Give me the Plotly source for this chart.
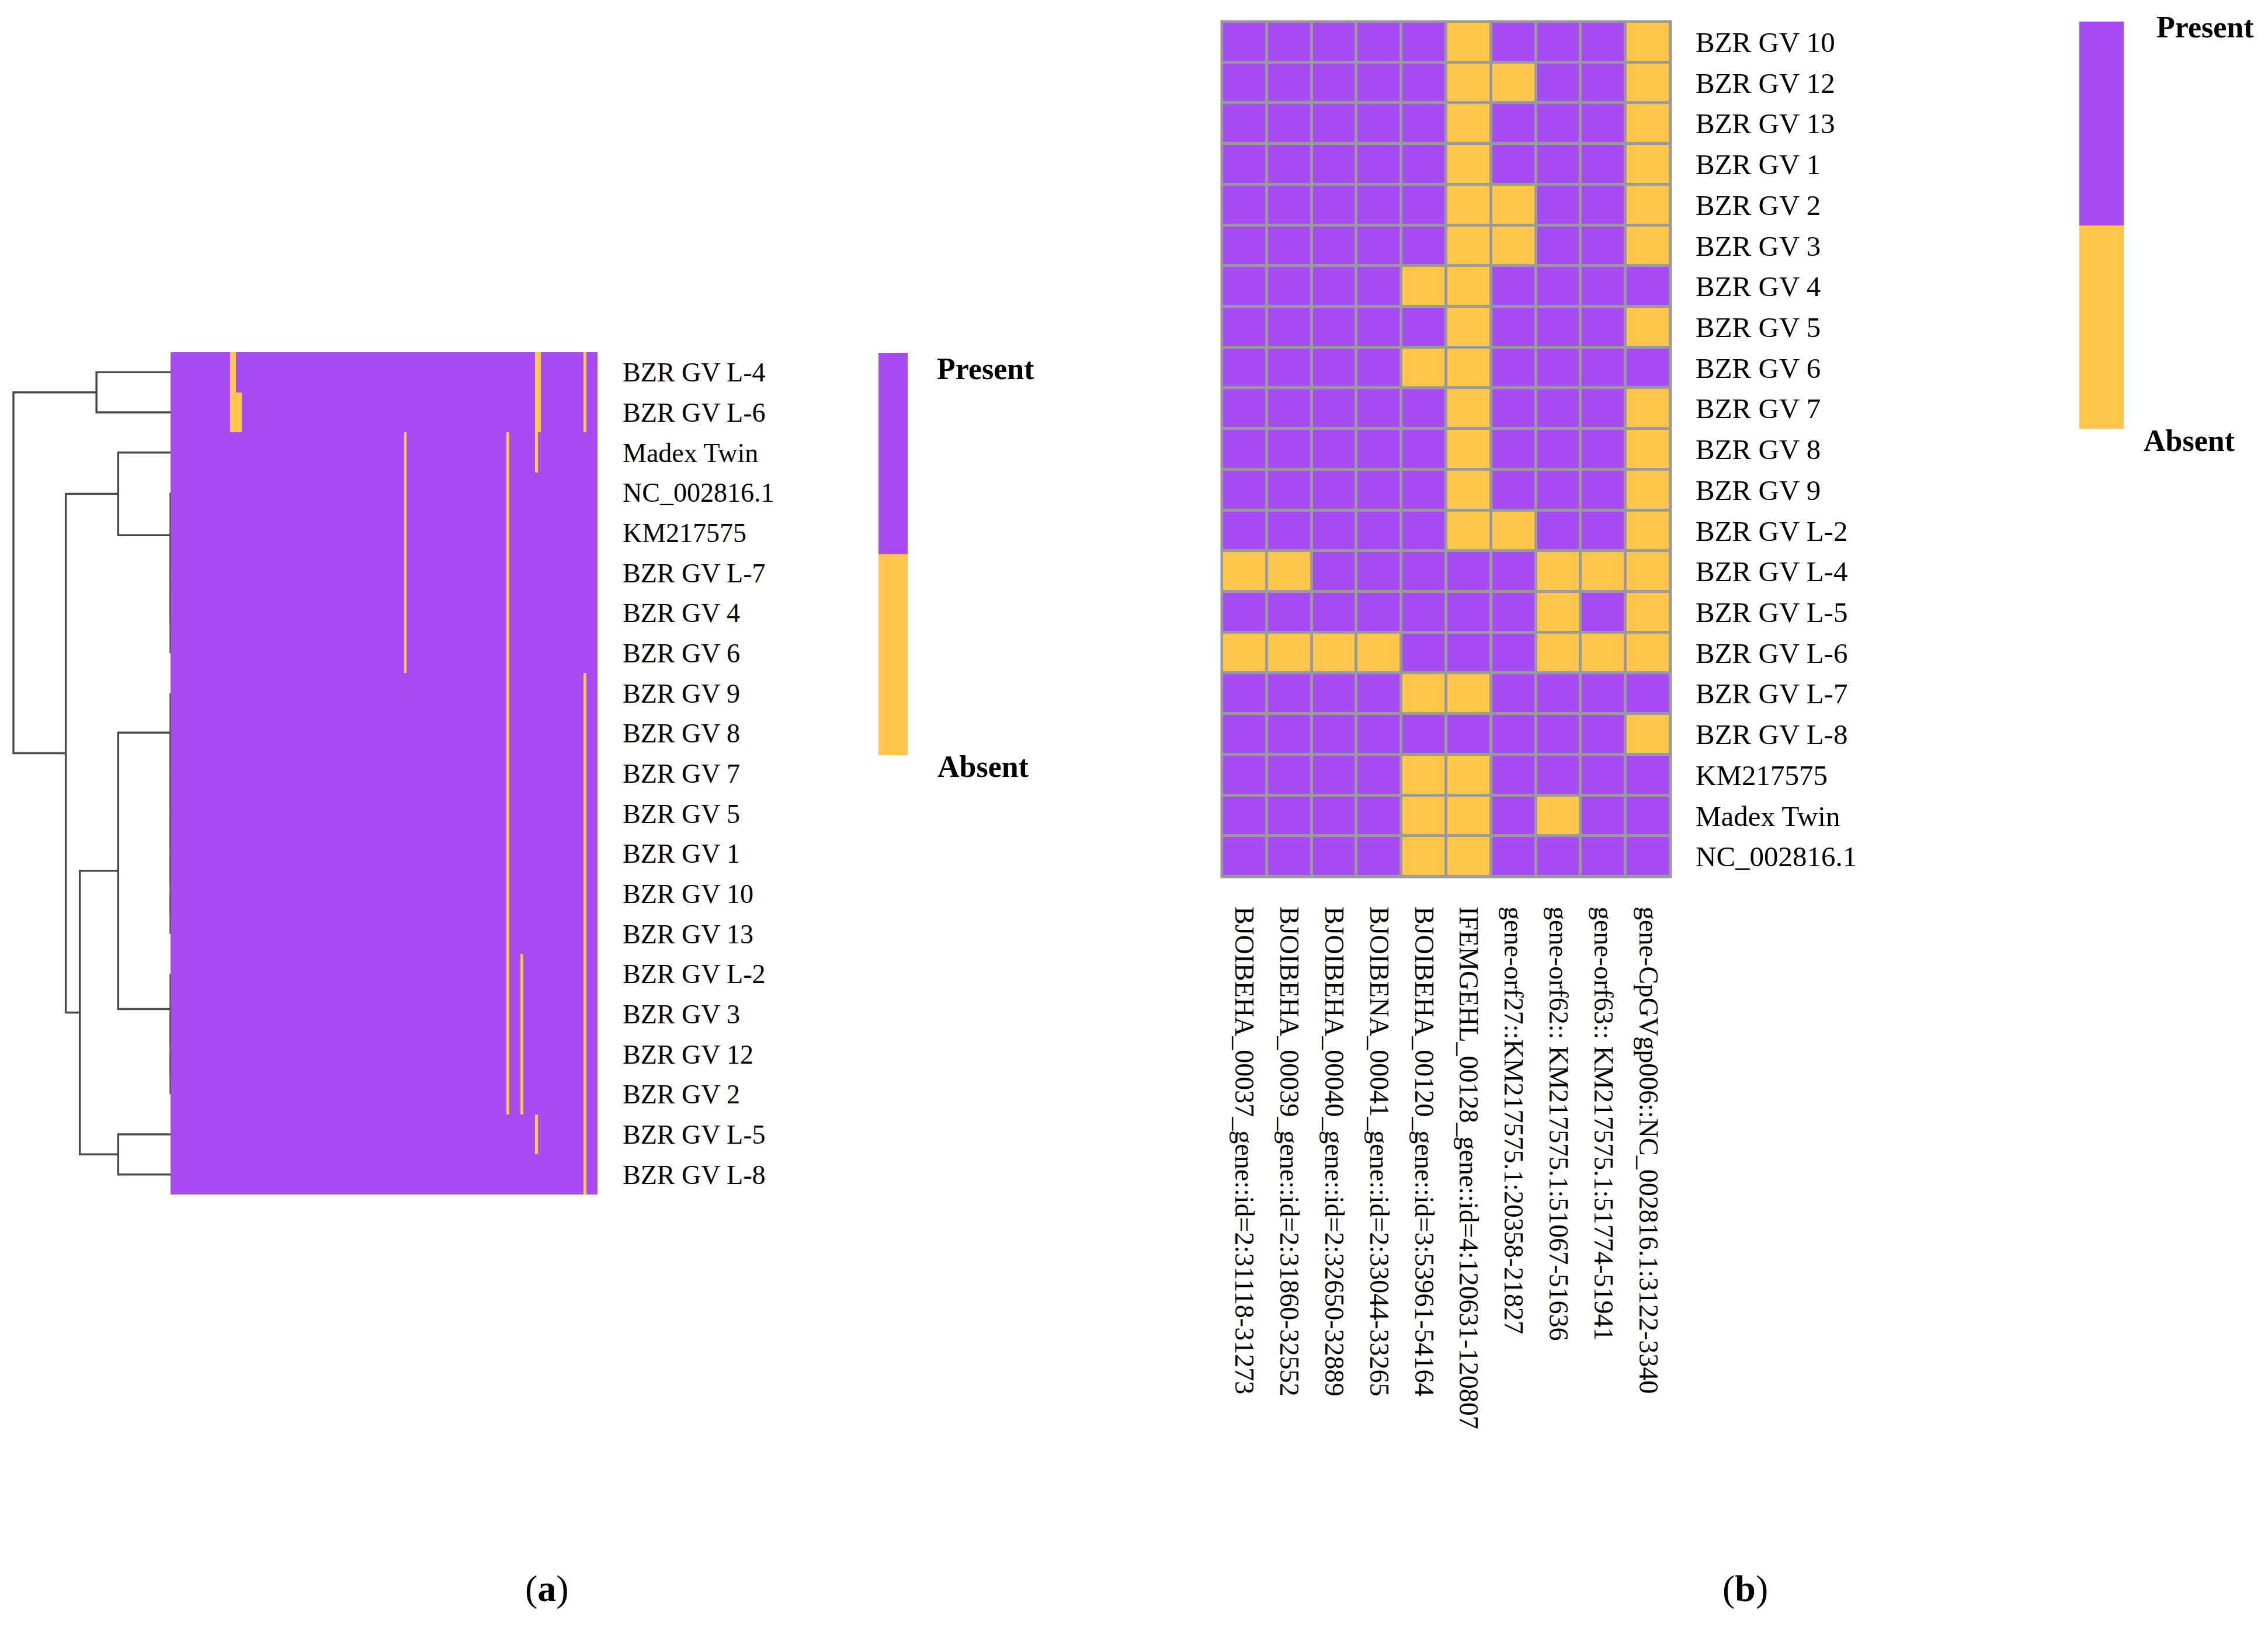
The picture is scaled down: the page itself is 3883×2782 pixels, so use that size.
## ----------- imports ----------- ##
import plotly.graph_objects as go


## ----------- page size (px) ----------- ##
W, H = 3883, 2782
PAGE_PAD = 8  ## the browser's default body margin
FONT = "Liberation Serif"
PURPLE = "#A64CF0"
YELLOW = "#FFC64B"
GRID_GREY = "#9A9A9A"
TREE_GREY = "#4A4A4A"

## ----------- panel (b): the ten variable genes ----------- ##
GENES_B = [
    "BJOIBEHA_00037_gene::id=2:31118-31273",
    "BJOIBEHA_00039_gene::id=2:31860-32552",
    "BJOIBEHA_00040_gene::id=2:32650-32889",
    "BJOIBENA_00041_gene::id=2:33044-33265",
    "BJOIBEHA_00120_gene::id=3:53961-54164",
    "IFEMGEHL_00128_gene::id=4:120631-120807",
    "gene-orf27::KM217575.1:20358-21827",
    "gene-orf62:: KM217575.1:51067-51636",
    "gene-orf63:: KM217575.1:51774-51941",
    "gene-CpGVgp006::NC_002816.1:3122-3340",
]
ROWS_B = [
    "BZR GV 10", "BZR GV 12", "BZR GV 13", "BZR GV 1", "BZR GV 2", "BZR GV 3",
    "BZR GV 4", "BZR GV 5", "BZR GV 6", "BZR GV 7", "BZR GV 8", "BZR GV 9",
    "BZR GV L-2", "BZR GV L-4", "BZR GV L-5", "BZR GV L-6", "BZR GV L-7",
    "BZR GV L-8", "KM217575", "Madex Twin", "NC_002816.1",
]
## 1 = present, 0 = absent (one row per isolate, columns follow GENES_B)
PRESENCE_B = [
    [1, 1, 1, 1, 1, 0, 1, 1, 1, 0],  # BZR GV 10
    [1, 1, 1, 1, 1, 0, 0, 1, 1, 0],  # BZR GV 12
    [1, 1, 1, 1, 1, 0, 1, 1, 1, 0],  # BZR GV 13
    [1, 1, 1, 1, 1, 0, 1, 1, 1, 0],  # BZR GV 1
    [1, 1, 1, 1, 1, 0, 0, 1, 1, 0],  # BZR GV 2
    [1, 1, 1, 1, 1, 0, 0, 1, 1, 0],  # BZR GV 3
    [1, 1, 1, 1, 0, 0, 1, 1, 1, 1],  # BZR GV 4
    [1, 1, 1, 1, 1, 0, 1, 1, 1, 0],  # BZR GV 5
    [1, 1, 1, 1, 0, 0, 1, 1, 1, 1],  # BZR GV 6
    [1, 1, 1, 1, 1, 0, 1, 1, 1, 0],  # BZR GV 7
    [1, 1, 1, 1, 1, 0, 1, 1, 1, 0],  # BZR GV 8
    [1, 1, 1, 1, 1, 0, 1, 1, 1, 0],  # BZR GV 9
    [1, 1, 1, 1, 1, 0, 0, 1, 1, 0],  # BZR GV L-2
    [0, 0, 1, 1, 1, 1, 1, 0, 0, 0],  # BZR GV L-4
    [1, 1, 1, 1, 1, 1, 1, 0, 1, 0],  # BZR GV L-5
    [0, 0, 0, 0, 1, 1, 1, 0, 0, 0],  # BZR GV L-6
    [1, 1, 1, 1, 0, 0, 1, 1, 1, 1],  # BZR GV L-7
    [1, 1, 1, 1, 1, 1, 1, 1, 1, 0],  # BZR GV L-8
    [1, 1, 1, 1, 0, 0, 1, 1, 1, 1],  # KM217575
    [1, 1, 1, 1, 0, 0, 1, 0, 1, 1],  # Madex Twin
    [1, 1, 1, 1, 0, 0, 1, 1, 1, 1],  # NC_002816.1
]

## ----------- panel (a): clustered whole-gene heatmap ----------- ##
ROWS_A = [
    "BZR GV L-4", "BZR GV L-6", "Madex Twin", "NC_002816.1", "KM217575",
    "BZR GV L-7", "BZR GV 4", "BZR GV 6", "BZR GV 9", "BZR GV 8", "BZR GV 7",
    "BZR GV 5", "BZR GV 1", "BZR GV 10", "BZR GV 13", "BZR GV L-2", "BZR GV 3",
    "BZR GV 12", "BZR GV 2", "BZR GV L-5", "BZR GV L-8",
]
N_GENES_A = 150
## column of each GENES_B entry inside the whole-gene matrix
GENE_COLS_A = [21, 22, 23, 24, 82, 118, 123, 128, 129, 145]

## dendrogram merges: (left, right, height); ints point to earlier merges
DENDRO_MERGES = [
    ("BZR GV L-7", "BZR GV 4", 0.0),      # 0
    (0, "BZR GV 6", 0.0),                 # 1
    ("KM217575", 1, 0.0),                 # 2
    ("NC_002816.1", 2, 0.0),              # 3
    ("BZR GV 10", "BZR GV 13", 0.0),      # 4
    ("BZR GV 1", 4, 0.0),                 # 5
    ("BZR GV 5", 5, 0.0),                 # 6
    ("BZR GV 7", 6, 0.0),                 # 7
    ("BZR GV 8", 7, 0.0),                 # 8
    ("BZR GV 9", 8, 0.0),                 # 9
    ("BZR GV 12", "BZR GV 2", 0.0),       # 10
    ("BZR GV 3", 10, 0.0),                # 11
    ("BZR GV L-2", 11, 0.0),              # 12
    ("BZR GV L-4", "BZR GV L-6", 1.414),  # 13
    ("Madex Twin", 3, 1.0),               # 14
    (9, 12, 1.0),                         # 15
    ("BZR GV L-5", "BZR GV L-8", 1.0),    # 16
    (15, 16, 1.732),                      # 17
    (14, 17, 2.0),                        # 18
    (13, 18, 3.0),                        # 19
]

COLORSCALE = [[0, YELLOW], [0.5, YELLOW], [0.5, PURPLE], [1, PURPLE]]

FIG_W, FIG_H = W - 2 * PAGE_PAD, H - 2 * PAGE_PAD


def px_x(x):
    ## page pixel -> paper fraction
    return (x - PAGE_PAD) / FIG_W


def px_y(y):
    return 1 - (y - PAGE_PAD) / FIG_H


def build_matrix_a():
    lookup = dict(zip(ROWS_B, PRESENCE_B))
    z = []
    for name in ROWS_A:
        row = [1] * N_GENES_A
        for col, val in zip(GENE_COLS_A, lookup[name]):
            row[col] = val
        z.append(row)
    return z


def dendro_lines(merges, leaves):
    ## scipy-style: a node sits at the mean of its children
    leaf_pos = {name: i for i, name in enumerate(leaves)}
    node_pos, node_h = [], []
    xs, ys = [], []

    def get(ref):
        if isinstance(ref, int):
            return node_pos[ref], node_h[ref]
        return leaf_pos[ref], 0.0

    for a, b, h in merges:
        ya, ha = get(a)
        yb, hb = get(b)
        xs += [ha, h, h, hb, None]
        ys += [ya, ya, yb, yb, None]
        node_pos.append((ya + yb) / 2)
        node_h.append(h)
    return xs, ys


def colorbar(x0, y_top, y_bot, thick):
    return dict(
        x=px_x(x0), xanchor="left", xpad=0,
        y=px_y((y_top + y_bot) / 2), yanchor="middle", ypad=0,
        len=y_bot - y_top, lenmode="pixels",
        thickness=thick, thicknessmode="pixels",
        outlinewidth=0, showticklabels=False, ticks="",
    )


def main():
    fig = go.Figure()

    ## dendrogram
    dx, dy = dendro_lines(DENDRO_MERGES, ROWS_A)
    fig.add_trace(go.Scatter(
        x=dx, y=dy, mode="lines", xaxis="x", yaxis="y",
        line=dict(color=TREE_GREY, width=3.5), hoverinfo="skip", showlegend=False,
    ))

    ## panel (a) heatmap
    fig.add_trace(go.Heatmap(
        z=build_matrix_a(), x=list(range(N_GENES_A)), y=list(range(len(ROWS_A))),
        xaxis="x2", yaxis="y2", zmin=0, zmax=1, colorscale=COLORSCALE,
        colorbar=colorbar(1504, 604, 1293, 50),
    ))

    ## panel (b) heatmap
    fig.add_trace(go.Heatmap(
        z=PRESENCE_B, x=GENES_B, y=ROWS_B, xaxis="x3", yaxis="y3",
        zmin=0, zmax=1, colorscale=COLORSCALE, xgap=5, ygap=5,
        colorbar=colorbar(3560, 37, 734, 76),
    ))

    ya_dom = [px_y(2045), px_y(603)]
    yb_dom = [px_y(1501), px_y(37)]
    hidden = dict(visible=False, showgrid=False, zeroline=False)

    fig.update_layout(
        width=FIG_W, height=FIG_H,
        margin=dict(l=0, r=0, t=0, b=0),
        paper_bgcolor="white", plot_bgcolor="white",
        font=dict(family=FONT, color="black"),
        showlegend=False,
        xaxis=dict(domain=[px_x(8), px_x(292)], range=[3.2565 - 8 / 89.67, 0],
                   anchor="y", **hidden),
        yaxis=dict(domain=ya_dom, range=[20.5, -0.5], anchor="x", **hidden),
        xaxis2=dict(domain=[px_x(292), px_x(1023)], range=[-0.5, N_GENES_A - 0.5],
                    anchor="y2", **hidden),
        yaxis2=dict(
            domain=ya_dom, range=[20.5, -0.5], anchor="x2", side="right",
            tickvals=list(range(len(ROWS_A))), ticktext=ROWS_A,
            showgrid=False, zeroline=False, showline=False, ticks="",
            ticklabelstandoff=42, tickfont=dict(size=46, family=FONT),
        ),
        xaxis3=dict(
            domain=[px_x(2092), px_x(2860)], anchor="y3", type="category",
            tickangle=90, showgrid=False, zeroline=False, showline=False, ticks="",
            ticklabelstandoff=50, tickfont=dict(size=46, family=FONT),
        ),
        yaxis3=dict(
            domain=yb_dom, anchor="x3", type="category", autorange="reversed",
            side="right", showgrid=False, zeroline=False, showline=False, ticks="",
            ticklabelstandoff=42, tickfont=dict(size=49, family=FONT),
        ),
    )

    ## grey grid behind panel (b) cells
    fig.add_shape(
        type="rect", xref="x3 domain", yref="y3 domain", x0=0, x1=1, y0=0, y1=1,
        fillcolor=GRID_GREY, line=dict(color=GRID_GREY, width=5), layer="below",
    )

    ## legend labels and panel captions
    labels = [
        ("<b>Present</b>", 1602, 631, 52, "left"),
        ("<b>Absent</b>", 1603, 1312, 52, "left"),
        ("<b>Present</b>", 3690, 46, 52, "left"),
        ("<b>Absent</b>", 3668, 754, 52, "left"),
        ("(<b>a</b>)", 936, 2719, 64, "center"),
        ("(<b>b</b>)", 2988, 2719, 64, "center"),
    ]
    for text, x, y, size, anchor in labels:
        fig.add_annotation(
            text=text, xref="paper", yref="paper", x=px_x(x), y=px_y(y),
            xanchor=anchor, yanchor="middle", showarrow=False,
            font=dict(size=size, family=FONT, color="black"),
        )

    fig.write_html("out.html")


if __name__ == "__main__":
    main()
